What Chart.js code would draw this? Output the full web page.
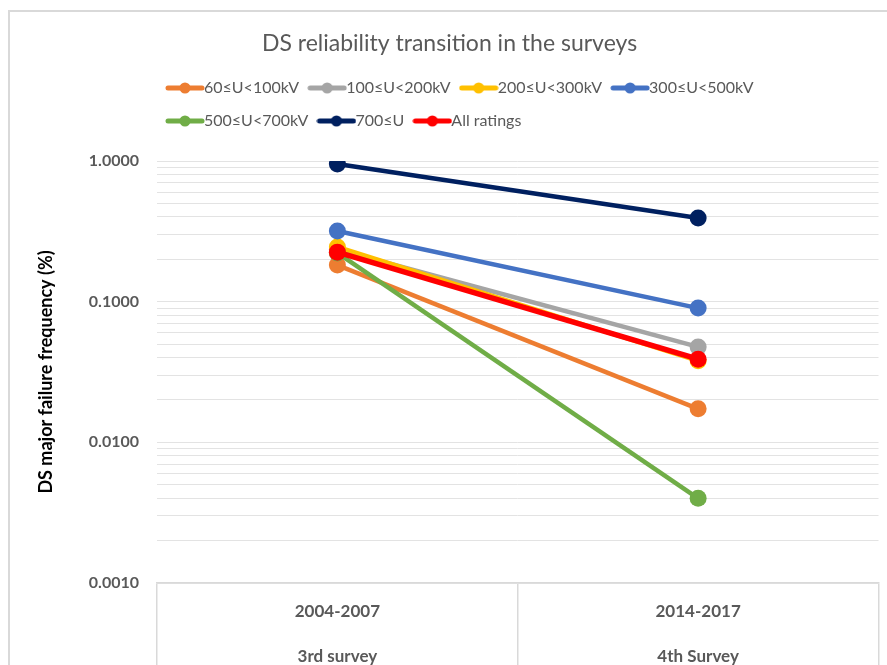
<!DOCTYPE html>
<html><head><meta charset="utf-8">
<script src="https://cdn.jsdelivr.net/npm/chart.js@4"></script>
<style>
html,body{margin:0;padding:0;width:887px;height:665px;overflow:hidden;background:#fff}
#frame{position:absolute;left:8px;top:10px;width:1000px;height:1000px;border-left:2px solid #d9d9d9;border-top:2px solid #d9d9d9;box-sizing:border-box}
#wrap{position:absolute;left:0;top:0;width:887px;height:700px}
</style></head><body>
<div id="frame"></div>
<div id="wrap"><canvas id="c"></canvas></div>
<script>
// ---- data ----
const categories = [['2004-2007', '3rd survey'], ['2014-2017', '4th Survey']];
const seriesNames = ['60≤U<100kV', '100≤U<200kV', '200≤U<300kV', '300≤U<500kV', '500≤U<700kV', '700≤U', 'All ratings'];
const v60_100 = [0.182, 0.0173];
const v100_200 = [0.235, 0.0477];
const v200_300 = [0.245, 0.038];
const v300_500 = [0.318, 0.090];
const v500_700 = [0.222, 0.0040];
const v700 = [0.952, 0.394];
const vAll = [0.225, 0.039];
const majorTicks = [0.001, 0.01, 0.1, 1];
const majorTickLabels = ['0.0010', '0.0100', '0.1000', '1.0000'];
const minorSteps = [2, 3, 4, 5, 6, 7, 8, 9];

// ---- styling ----
const seriesValues = [v60_100, v100_200, v200_300, v300_500, v500_700, v700, vAll];
const colors = ['#ED7D31', '#A5A5A5', '#FFC000', '#4472C4', '#70AD47', '#002060', '#FF0000'];
const drawOrder = [6, 5, 3, 2, 1, 4, 0];
const widths = [4.5, 4.5, 4.5, 4.5, 4.5, 4.5, 5.5];

Chart.defaults.font.family = 'Lato';
Chart.defaults.color = '#595959';

function makeSymbol(color) {
  const c = document.createElement('canvas');
  c.width = 40; c.height = 14;
  const g = c.getContext('2d');
  g.strokeStyle = color; g.lineWidth = 5; g.lineCap = 'round';
  g.beginPath(); g.moveTo(3, 7); g.lineTo(37, 7); g.stroke();
  g.fillStyle = color;
  g.beginPath(); g.arc(20, 7, 5.5, 0, Math.PI * 2); g.fill();
  return c;
}

const datasets = seriesNames.map((name, i) => ({
  label: name,
  data: seriesValues[i],
  borderColor: colors[i],
  backgroundColor: colors[i],
  pointBackgroundColor: colors[i],
  pointBorderColor: colors[i],
  borderWidth: widths[i],
  pointRadius: 8.5,
  pointHoverRadius: 8.5,
  pointBorderWidth: 0,
  order: drawOrder[i]
}));

new Chart(document.getElementById('c'), {
  type: 'line',
  data: { labels: categories, datasets },
  options: {
    responsive: true,
    maintainAspectRatio: false,
    animation: false,
    layout: { padding: { left: 20, right: 8, top: 10, bottom: 0 } },
    plugins: {
      tooltip: { enabled: false },
      title: {
        display: true,
        text: 'DS reliability transition in the surveys',
        color: '#595959',
        font: { size: 23, weight: 'normal' },
        padding: { top: 20.2, bottom: 5.2 }
      },
      subtitle: {
        display: true,
        text: '',
        weight: 500,
        font: { size: 10 },
        padding: { top: 10, bottom: 0 }
      },
      legend: {
        position: 'top',
        fullSize: false,
        align: 'start',
        labels: {
          usePointStyle: true,
          pointStyleWidth: 22,
          padding: 17,
          color: '#595959',
          font: { size: 16 },
          generateLabels: chart => chart.data.datasets.map((ds, i) => ({
            text: ds.label,
            pointStyle: makeSymbol(ds.borderColor),
            fillStyle: ds.borderColor,
            strokeStyle: ds.borderColor,
            fontColor: '#595959',
            lineWidth: 0,
            hidden: false,
            datasetIndex: i
          }))
        }
      }
    },
    scales: {
      x: {
        type: 'category',
        offset: true,
        grid: {
          offset: true,
          drawOnChartArea: false,
          drawTicks: true,
          tickLength: 117,
          color: '#d9d9d9',
          lineWidth: 1.5
        },
        border: { display: true, color: '#d9d9d9', width: 1.5 },
        ticks: {
          color: '#595959',
          font: { size: 17, weight: 'bold', lineHeight: 45 / 17 },
          padding: -110.5,
          maxRotation: 0
        },
        afterFit: s => { s.height = 117; }
      },
      y: {
        type: 'logarithmic',
        min: 0.001,
        max: 1,
        afterBuildTicks: s => {
          const t = [];
          majorTicks.forEach((m, i) => {
            t.push({ value: m });
            if (i < majorTicks.length - 1) minorSteps.forEach(k => t.push({ value: m * k }));
          });
          s.ticks = t;
        },
        afterFit: s => { s.width = 137; },
        grid: { color: '#e3e3e3', lineWidth: 1, drawTicks: false },
        border: { display: false },
        ticks: {
          autoSkip: false,
          padding: 18,
          color: '#595959',
          font: { size: 16, weight: 'bold' },
          callback: v => {
            const idx = majorTicks.findIndex(m => Math.abs(m - v) / m < 1e-9);
            return idx >= 0 ? majorTickLabels[idx] : '';
          }
        },
        title: {
          display: true,
          text: 'DS major failure frequency (%)',
          color: '#000000',
          font: { size: 18, weight: 'bold' },
          padding: { top: 15, bottom: 0 }
        }
      }
    }
  }
});
</script>
</body></html>
